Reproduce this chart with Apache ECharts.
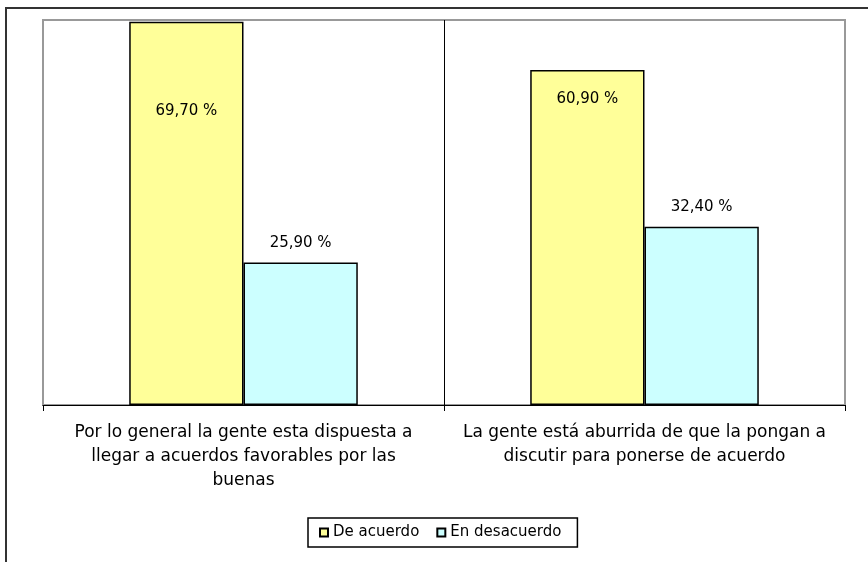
<!DOCTYPE html>
<html>
<head>
<meta charset="utf-8">
<script src="https://cdn.jsdelivr.net/npm/echarts@6/dist/echarts.min.js"></script>
<style>html,body{margin:0;padding:0;background:#fff;}#c{width:868px;height:562px;}</style>
</head>
<body>
<div id="c"></div>
<script>
var categories = [
  "Por lo general la gente esta dispuesta a\nllegar a acuerdos favorables por las\nbuenas",
  "La gente está aburrida de que la pongan a\ndiscutir para ponerse de acuerdo"
];
var seriesNames = ["De acuerdo", "En desacuerdo"];
var deAcuerdo = [69.7, 60.9];
var enDesacuerdo = [25.9, 32.4];
var yMax = 70;

// label distances (layout only) for the yellow series
var yellowLabelDist = [82, 22];

function fmt(v) { return v.toFixed(2).replace('.', ',') + ' %'; }

var font = 'DejaVu Sans';
var chart = echarts.init(document.getElementById('c'));
chart.setOption({
  animation: false,
  backgroundColor: '#fff',
  textStyle: { fontFamily: font },
  graphic: [{
    type: 'rect', silent: true, z: -1,
    shape: { x: 6, y: 8, width: 900, height: 600 },
    style: { fill: 'none', stroke: '#333', lineWidth: 2 }
  }],
  grid: {
    left: 43, right: 23, top: 20, bottom: 157,
    show: true, borderColor: '#999', borderWidth: 2, backgroundColor: '#fff'
  },
  legend: {
    data: seriesNames,
    left: 308, top: 518,
    backgroundColor: '#fff',
    borderColor: '#000', borderWidth: 1.5,
    padding: [7, 16, 7, 11],
    itemGap: 17,
    itemWidth: 8, itemHeight: 8, icon: 'rect',
    textStyle: { fontFamily: font, fontSize: 15, color: '#000' }
  },
  xAxis: {
    type: 'category',
    data: categories,
    axisLine: { lineStyle: { color: '#000', width: 1 } },
    axisTick: { show: true, length: 6, lineStyle: { color: '#000' } },
    splitLine: { show: true, lineStyle: { color: ['#999', '#000', '#999'], width: 1 } },
    axisLabel: {
      interval: 0, margin: 16, fontFamily: font, fontSize: 17, lineHeight: 24,
      color: '#000', align: 'center'
    }
  },
  yAxis: {
    type: 'value', min: 0, max: yMax,
    show: false, splitLine: { show: false }
  },
  series: [{
    name: seriesNames[0], type: 'bar',
    barGap: '0%', barCategoryGap: '43%',
    itemStyle: { color: '#FFFF99', borderColor: '#000', borderWidth: 1.5 },
    data: deAcuerdo.map(function (v, i) {
      return { value: v, label: { distance: yellowLabelDist[i] } };
    }),
    label: {
      show: true, position: 'insideTop', color: '#000',
      fontFamily: font, fontSize: 15,
      formatter: function (p) { return fmt(p.value); }
    }
  }, {
    name: seriesNames[1], type: 'bar',
    itemStyle: { color: '#CCFFFF', borderColor: '#000', borderWidth: 1.5 },
    data: enDesacuerdo,
    label: {
      show: true, position: 'top', distance: 12, color: '#000',
      fontFamily: font, fontSize: 15,
      formatter: function (p) { return fmt(p.value); }
    }
  }]
});
</script>
</body>
</html>
